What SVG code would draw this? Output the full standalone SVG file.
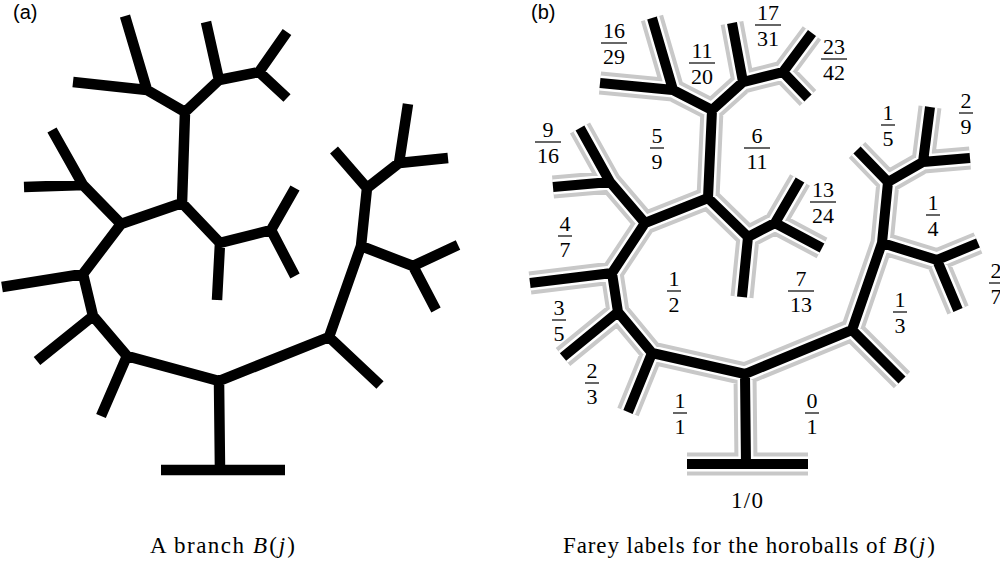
<svg xmlns="http://www.w3.org/2000/svg" xmlns:xlink="http://www.w3.org/1999/xlink" width="1000" height="562" viewBox="0 0 1000 562">
<style>
.tree{fill:none;stroke-linejoin:miter;stroke-linecap:butt;stroke-miterlimit:4}
.halo{stroke:#c8c8c8;stroke-width:23}
.gap{stroke:#ffffff;stroke-width:15}
.blkA{stroke:#000;stroke-width:10.5}
.blkB{stroke:#000;stroke-width:10}
.frac text{font-family:"Liberation Serif","Times New Roman",serif;font-size:22px;text-anchor:middle;fill:#000}
.frac line{stroke:#000;stroke-width:1.2}
.panel{font-family:"Liberation Sans",Arial,sans-serif;font-size:20px;fill:#000}
.cap{font-family:"Liberation Serif","Times New Roman",serif;font-size:23px;fill:#000}
.it{font-style:italic}
</style>
<defs>
<path id="treeA" d="M161,470L220,470L285,470 M285,470L220,470L219,381 M219,381L220,470L161,470
M220,470L219,381L127,356 M127,356L219,381L329,337 M329,337L219,381L220,470
M219,381L127,356L101,416 M101,416L127,356L93,316 M93,316L127,356L219,381
M127,356L93,316L37,361 M37,361L93,316L83,274 M83,274L93,316L127,356
M93,316L83,274L2,287 M2,287L83,274L121,224 M121,224L83,274L93,316
M83,274L121,224L83,185 M83,185L121,224L182,203 M182,203L121,224L83,274
M121,224L83,185L52,130 M52,130L83,185L24,187 M24,187L83,185L121,224
M121,224L182,203L185,112 M185,112L182,203L220,243 M220,243L182,203L121,224
M182,203L185,112L147,90 M147,90L185,112L219,80 M219,80L185,112L182,203
M185,112L147,90L125,16 M125,16L147,90L73,82 M73,82L147,90L185,112
M185,112L219,80L206,22 M206,22L219,80L259,72 M259,72L219,80L185,112
M219,80L259,72L287,32 M287,32L259,72L287,98 M287,98L259,72L219,80
M182,203L220,243L217,300 M217,300L220,243L271,230 M271,230L220,243L182,203
M220,243L271,230L295,188 M295,188L271,230L295,276 M295,276L271,230L220,243
M219,381L329,337L380,385 M380,385L329,337L361,246 M361,246L329,337L219,381
M329,337L361,246L367,188 M367,188L361,246L413,266 M413,266L361,246L329,337
M361,246L367,188L334,150 M334,150L367,188L399,163 M399,163L367,188L361,246
M367,188L399,163L408,104 M408,104L399,163L448,158 M448,158L399,163L367,188
M361,246L413,266L458,245 M458,245L413,266L436,310 M436,310L413,266L361,246"/>
<path id="treeB" d="M687,464L746,464L808,464 M808,464L746,464L745,374 M745,374L746,464L687,464
M746,464L745,374L652,353 M652,353L745,374L852,330 M852,330L745,374L746,464
M745,374L652,353L628,412 M628,412L652,353L618,312 M618,312L652,353L745,374
M652,353L618,312L563,357 M563,357L618,312L612,273 M612,273L618,312L652,353
M618,312L612,273L530,283 M530,283L612,273L645,223 M645,223L612,273L618,312
M612,273L645,223L610,182 M610,182L645,223L708,198 M708,198L645,223L612,273
M645,223L610,182L580,128 M580,128L610,182L553,187 M553,187L610,182L645,223
M645,223L708,198L712,110 M712,110L708,198L748,237 M748,237L708,198L645,223
M708,198L712,110L673,90 M673,90L712,110L743,82 M743,82L712,110L708,198
M712,110L673,90L652,18 M652,18L673,90L600,83 M600,83L673,90L712,110
M712,110L743,82L732,23 M732,23L743,82L783,72 M783,72L743,82L712,110
M743,82L783,72L812,33 M812,33L783,72L808,98 M808,98L783,72L743,82
M708,198L748,237L742,297 M742,297L748,237L775,223 M775,223L748,237L708,198
M748,237L775,223L800,180 M800,180L775,223L822,248 M822,248L775,223L748,237
M745,374L852,330L902,380 M902,380L852,330L882,243 M882,243L852,330L745,374
M852,330L882,243L888,182 M888,182L882,243L937,260 M937,260L882,243L852,330
M882,243L888,182L857,150 M857,150L888,182L923,162 M923,162L888,182L882,243
M888,182L923,162L930,107 M930,107L923,162L970,158 M970,158L923,162L888,182
M882,243L937,260L978,243 M978,243L937,260L958,310 M958,310L937,260L882,243"/>
</defs>
<rect x="0" y="0" width="1000" height="562" fill="#ffffff"/>

<g id="panel-a">
<text class="panel" x="13" y="19">(a)</text>
<g id="connectors-a" class="tree">
<use xlink:href="#treeA" href="#treeA" class="blkA"/>
</g>
<g id="caption-a">
<text class="cap" x="150" y="553" textLength="94" lengthAdjust="spacing">A branch</text>
<text class="cap" x="253" y="553" textLength="42" lengthAdjust="spacing"><tspan class="it">B</tspan>(<tspan class="it">j</tspan>)</text>
</g>
</g>

<g id="panel-b">
<text class="panel" x="531" y="19">(b)</text>
<g id="connectors-b" class="tree">
<use xlink:href="#treeB" href="#treeB" class="halo"/>
<use xlink:href="#treeB" href="#treeB" class="gap"/>
<use xlink:href="#treeB" href="#treeB" class="blkB"/>
</g>
<g id="labels-b">
<g id="f16-29" class="frac"><text x="614" y="37.5">16</text><line x1="601" y1="43" x2="627" y2="43"/><text x="614" y="64">29</text></g>
<g id="f11-20" class="frac"><text x="702" y="57.5">11</text><line x1="689" y1="63" x2="715" y2="63"/><text x="702" y="84">20</text></g>
<g id="f17-31" class="frac"><text x="768" y="19.5">17</text><line x1="755" y1="25" x2="781" y2="25"/><text x="768" y="46">31</text></g>
<g id="f23-42" class="frac"><text x="834" y="53.5">23</text><line x1="821" y1="59" x2="847" y2="59"/><text x="834" y="80">42</text></g>
<g id="f9-16" class="frac"><text x="548" y="136.5">9</text><line x1="535" y1="142" x2="561" y2="142"/><text x="548" y="163">16</text></g>
<g id="f5-9" class="frac"><text x="657" y="142.5">5</text><line x1="650" y1="148" x2="664" y2="148"/><text x="657" y="169">9</text></g>
<g id="f6-11" class="frac"><text x="757" y="142.5">6</text><line x1="744" y1="148" x2="770" y2="148"/><text x="757" y="169">11</text></g>
<g id="f13-24" class="frac"><text x="823" y="196.5">13</text><line x1="810" y1="202" x2="836" y2="202"/><text x="823" y="223">24</text></g>
<g id="f4-7" class="frac"><text x="565" y="230.5">4</text><line x1="558" y1="236" x2="572" y2="236"/><text x="565" y="257">7</text></g>
<g id="f1-2" class="frac"><text x="674" y="285.5">1</text><line x1="667" y1="291" x2="681" y2="291"/><text x="674" y="312">2</text></g>
<g id="f7-13" class="frac"><text x="801" y="285.5">7</text><line x1="788" y1="291" x2="814" y2="291"/><text x="801" y="312">13</text></g>
<g id="f3-5" class="frac"><text x="559" y="314.5">3</text><line x1="552" y1="320" x2="566" y2="320"/><text x="559" y="341">5</text></g>
<g id="f2-3" class="frac"><text x="592" y="377.5">2</text><line x1="585" y1="383" x2="599" y2="383"/><text x="592" y="404">3</text></g>
<g id="f1-1" class="frac"><text x="680" y="407.5">1</text><line x1="673" y1="413" x2="687" y2="413"/><text x="680" y="434">1</text></g>
<g id="f0-1" class="frac"><text x="812" y="407.5">0</text><line x1="805" y1="413" x2="819" y2="413"/><text x="812" y="434">1</text></g>
<g id="f1-5" class="frac"><text x="888" y="119.5">1</text><line x1="881" y1="125" x2="895" y2="125"/><text x="888" y="146">5</text></g>
<g id="f2-9" class="frac"><text x="966" y="107.5">2</text><line x1="959" y1="113" x2="973" y2="113"/><text x="966" y="134">9</text></g>
<g id="f1-4" class="frac"><text x="933" y="209.5">1</text><line x1="926" y1="215" x2="940" y2="215"/><text x="933" y="236">4</text></g>
<g id="f2-7" class="frac"><text x="996" y="277.5">2</text><line x1="989" y1="283" x2="1003" y2="283"/><text x="996" y="304">7</text></g>
<g id="f1-3" class="frac"><text x="900" y="306.5">1</text><line x1="893" y1="312" x2="907" y2="312"/><text x="900" y="333">3</text></g>
<g id="f1-0"><text class="cap" x="731" y="508" font-size="22" textLength="32" lengthAdjust="spacing">1/0</text></g>
</g>
<g id="caption-b">
<text class="cap" x="563" y="553" textLength="323" lengthAdjust="spacing">Farey labels for the horoballs of</text>
<text class="cap" x="893" y="553" textLength="42" lengthAdjust="spacing"><tspan class="it">B</tspan>(<tspan class="it">j</tspan>)</text>
</g>
</g>
</svg>
